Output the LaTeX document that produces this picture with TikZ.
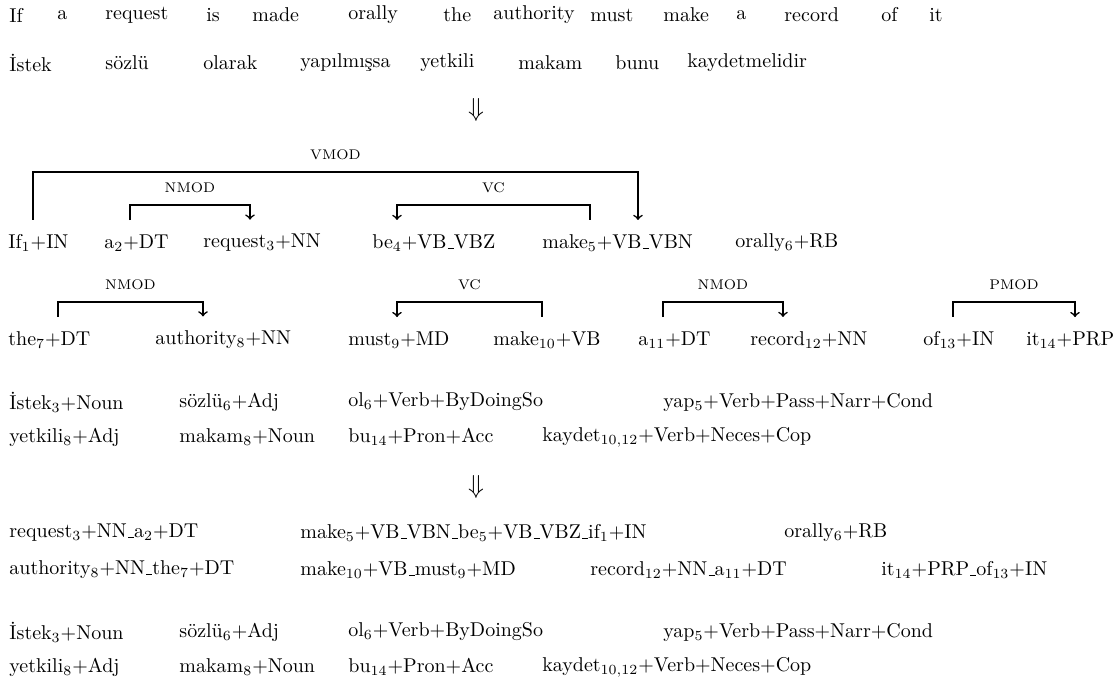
\documentclass[tikz,border=0pt]{standalone}
\usepackage{fontspec}
\usepackage{amsmath}
\usepackage{tikz}

% short low rule between tags
\newcommand{\usc}{\leavevmode\kern.06em\vbox{\hrule width.3em}}

\tikzset{
  word/.style={anchor=west, inner sep=0pt},
  tok/.style={word, outer ysep=7.3pt},
  dep/.style={->, thick},
  deplab/.style={above=2.5pt, font=\scriptsize},
  step down/.style={scale=1.3},
}

\begin{document}
\begin{tikzpicture}[x=0.5pt, y=-0.5pt, >=to]
  \useasboundingbox (0,0) rectangle (1115,680);

  % source sentence and its translation
  \node[word] (e1)  at (9,15)   {If};
  \node[word] (e2)  at (57,15)  {a};
  \node[word] (e3)  at (105,15) {request};
  \node[word] (e4)  at (206,15) {is};
  \node[word] (e5)  at (252,15) {made};
  \node[word] (e6)  at (348,15) {orally};
  \node[word] (e7)  at (443,15) {the};
  \node[word] (e8)  at (493,15) {authority};
  \node[word] (e9)  at (590,15) {must};
  \node[word] (e10) at (663,15) {make};
  \node[word] (e11) at (736,15) {a};
  \node[word] (e12) at (784,15) {record};
  \node[word] (e13) at (881,15) {of};
  \node[word] (e14) at (929,15) {it};

  \node[word] (t1) at (9,63)   {İstek};
  \node[word] (t2) at (105,63) {sözlü};
  \node[word] (t3) at (203,63) {olarak};
  \node[word] (t4) at (300,63) {yapılmışsa};
  \node[word] (t5) at (420,63) {yetkili};
  \node[word] (t6) at (518,63) {makam};
  \node[word] (t7) at (615,63) {bunu};
  \node[word] (t8) at (687,63) {kaydetmelidir};

  \node[step down] (down1) at (476,110) {$\Downarrow$};

  % parsed english side
  \node[tok] (if1)    at (8,243)   {If$_1$+IN};
  \node[tok] (a2)     at (104,243) {a$_2$+DT};
  \node[tok] (req3)   at (203,243) {request$_3$+NN};
  \node[tok] (be4)    at (372,243) {be$_4$+VB\usc VBZ};
  \node[tok] (make5)  at (542,243) {make$_5$+VB\usc VBN};
  \node[tok] (orally6) at (735,243) {orally$_6$+RB};

  \node[tok] (the7)   at (8,340)    {the$_7$+DT};
  \node[tok] (auth8)  at (155,340)  {authority$_8$+NN};
  \node[tok] (must9)  at (348,340)  {must$_9$+MD};
  \node[tok] (make10) at (493,340)  {make$_{10}$+VB};
  \node[tok] (a11)    at (638,340)  {a$_{11}$+DT};
  \node[tok] (rec12)  at (750,340)  {record$_{12}$+NN};
  \node[tok] (of13)   at (923,340)  {of$_{13}$+IN};
  \node[tok] (it14)   at (1026,340) {it$_{14}$+PRP};

  \draw[dep] (if1.north -| 33,0) -- (33,172) -| (make5.north -| 638,0)
        node[deplab, pos=0.25]{VMOD};
  \draw[dep] (a2.north -| 130,0) -- (130,205) -| (req3.north -| 250,0)
        node[deplab, pos=0.25]{NMOD};
  \draw[dep] (make5.north -| 590,0) -- (590,205) -| (be4.north -| 397,0)
        node[deplab, pos=0.25]{VC};

  \draw[dep] (the7.north -| 58,0) -- (58,302) -| (auth8.north -| 203,0)
        node[deplab, pos=0.25]{NMOD};
  \draw[dep] (make10.north -| 542,0) -- (542,302) -| (must9.north -| 397,0)
        node[deplab, pos=0.25]{VC};
  \draw[dep] (a11.north -| 663,0) -- (663,302) -| (rec12.north -| 783,0)
        node[deplab, pos=0.25]{NMOD};
  \draw[dep] (of13.north -| 953,0) -- (953,302) -| (it14.north -| 1075,0)
        node[deplab, pos=0.25]{PMOD};

  % turkish morphology
  \node[word] (m1) at (9,402)   {İstek$_3$+Noun};
  \node[word] (m2) at (179,402) {sözlü$_6$+Adj};
  \node[word] (m3) at (348,402) {ol$_6$+Verb+ByDoingSo};
  \node[word] (m4) at (663,402) {yap$_5$+Verb+Pass+Narr+Cond};
  \node[word] (m5) at (9,437)   {yetkili$_8$+Adj};
  \node[word] (m6) at (179,437) {makam$_8$+Noun};
  \node[word] (m7) at (348,437) {bu$_{14}$+Pron+Acc};
  \node[word] (m8) at (542,437) {kaydet$_{10,12}$+Verb+Neces+Cop};

  \node[step down] (down2) at (476,487) {$\Downarrow$};

  % merged english tokens
  \node[word] (g1) at (9,533)   {request$_3$+NN\usc a$_2$+DT};
  \node[word] (g2) at (300,533) {make$_5$+VB\usc VBN\usc be$_5$+VB\usc VBZ\usc if$_1$+IN};
  \node[word] (g3) at (784,533) {orally$_6$+RB};
  \node[word] (g4) at (9,570)   {authority$_8$+NN\usc the$_7$+DT};
  \node[word] (g5) at (300,570) {make$_{10}$+VB\usc must$_9$+MD};
  \node[word] (g6) at (590,570) {record$_{12}$+NN\usc a$_{11}$+DT};
  \node[word] (g7) at (881,570) {it$_{14}$+PRP\usc of$_{13}$+IN};

  \node[word] (n1) at (9,632)   {İstek$_3$+Noun};
  \node[word] (n2) at (179,632) {sözlü$_6$+Adj};
  \node[word] (n3) at (348,632) {ol$_6$+Verb+ByDoingSo};
  \node[word] (n4) at (663,632) {yap$_5$+Verb+Pass+Narr+Cond};
  \node[word] (n5) at (9,667)   {yetkili$_8$+Adj};
  \node[word] (n6) at (179,667) {makam$_8$+Noun};
  \node[word] (n7) at (348,667) {bu$_{14}$+Pron+Acc};
  \node[word] (n8) at (542,667) {kaydet$_{10,12}$+Verb+Neces+Cop};
\end{tikzpicture}
\end{document}
